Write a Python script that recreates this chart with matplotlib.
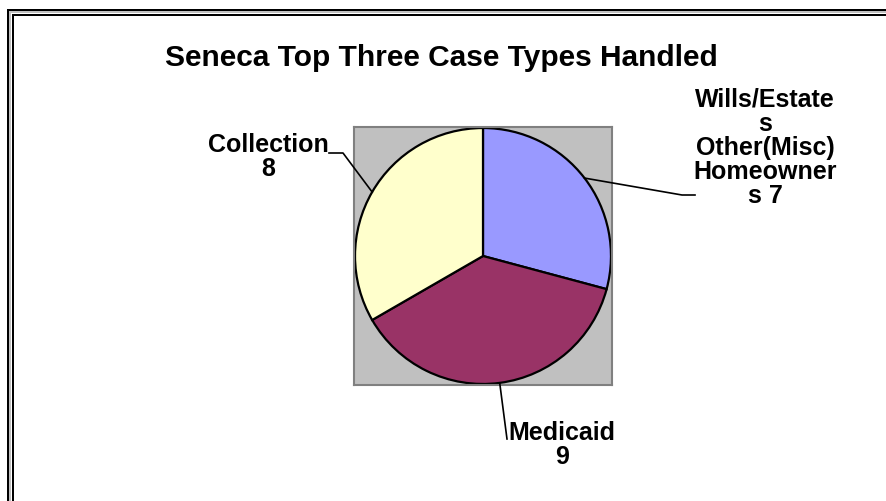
import matplotlib.pyplot as plt
import numpy as np
from matplotlib.patches import Rectangle
from matplotlib.lines import Line2D

title = "Seneca Top Three Case Types Handled"
labels = ["Wills/Estate\ns\nOther(Misc)\nHomeowner\ns 7", "Medicaid\n9", "Collection\n8"]
values = [7, 9, 8]
colors = ["#9999FF", "#993366", "#FFFFCC"]

W, H = 887, 502
fig = plt.figure(figsize=(W / 100, H / 100), dpi=100)
fig.patch.set_facecolor("white")

# double frame (runs off right/bottom edge like the original)
fig.patches.append(Rectangle((7.5, -20), W + 40, H - 10.5 + 20, transform=None,
                             fill=False, lw=3 * 0.72, ec="black"))
fig.patches.append(Rectangle((10, -20), W + 40, H - 13 + 20, transform=None,
                             fill=False, lw=2 * 0.72, ec="#C0C0C0"))
fig.patches.append(Rectangle((13, -20), W + 40, H - 15.5 + 20, transform=None,
                             fill=False, lw=2 * 0.72, ec="black"))

fig.text(441 / W, 1 - 58 / H, title, ha="center", va="center",
         fontsize=21.5, fontweight="bold", family="Liberation Sans")

# pie plot area (grey square)
cx, cy, r = 483, H - 257, 128
ax = fig.add_axes([(cx - 129) / W, (cy - 129) / H, 258 / W, 258 / H])

wedges, _ = ax.pie(values, colors=colors, startangle=90, counterclock=False,
                   radius=1.0, wedgeprops=dict(edgecolor="black", linewidth=1.6))
ax.set_frame_on(True)
ax.set_facecolor("#C0C0C0")
for s in ax.spines.values():
    s.set_visible(True)
    s.set_color("#808080")
    s.set_linewidth(1.5)
ax.set_xticks([])
ax.set_yticks([])
ax.set_xlim(-1.008, 1.008)
ax.set_ylim(-1.008, 1.008)
ax.set_aspect("equal")

# label text positions and leader elbows (figure pixels, y from top)
text_pos = [(765, 148), (562, 445), (268, 157)]
elbows = [[(682, 196), (695, 196)], [(507, 440)], [(343, 154), (329, 154)]]

for w, lab, tp, el in zip(wedges, labels, text_pos, elbows):
    mid = np.deg2rad((w.theta1 + w.theta2) / 2)
    px = cx + r * np.cos(mid)
    py = cy + r * np.sin(mid)
    xs = [px] + [e[0] for e in el]
    ys = [py] + [H - e[1] for e in el]
    fig.lines.append(Line2D(xs, ys, transform=None, color="black", lw=1.2))
    fig.text(tp[0] / W, 1 - tp[1] / H, lab, ha="center", va="center",
             fontsize=18, fontweight="bold", family="Liberation Sans",
             linespacing=1.0)

fig.savefig("out.png", dpi=100)
